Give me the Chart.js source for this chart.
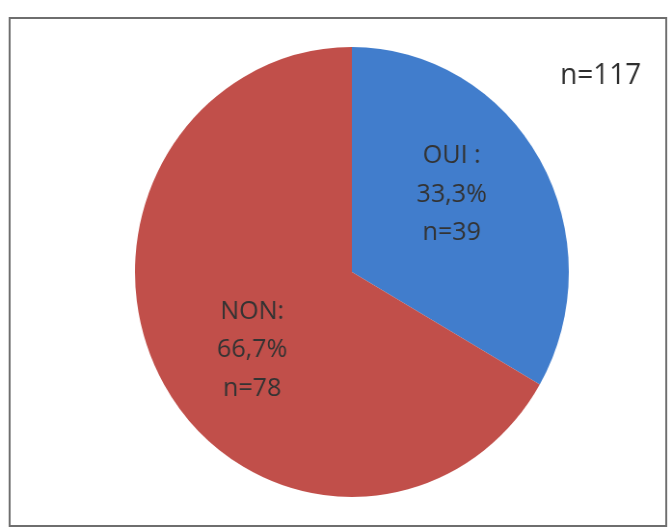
<!DOCTYPE html>
<html>
<head>
<meta charset="utf-8">
<script src="https://cdn.jsdelivr.net/npm/chart.js@4.4.1/dist/chart.umd.min.js"></script>
<style>
  html, body { margin: 0; padding: 0; background: #fff; }
  #wrap { width: 671px; height: 529px; position: relative; overflow: hidden; }
  /* the scan is a bit narrower than tall, so the canvas is squeezed horizontally */
  #pieChart { width: 671px !important; height: 529px !important; display: block; }
</style>
</head>
<body>
<div id="wrap"><canvas id="pieChart" width="696" height="529"></canvas></div>
<script>
var categories = ['OUI', 'NON'];
var counts = [39, 78];
var percents = ['33,3%', '66,7%'];
var labelHeads = ['OUI :', 'NON:'];
var total = 117;
var sliceColors = ['#417dcc', '#c14f4a'];

// frame around the figure + the "n=" note
var framePlugin = {
  id: 'frame',
  beforeDraw: function (chart) {
    var ctx = chart.ctx;
    ctx.save();
    ctx.strokeStyle = '#6e6e6e';
    ctx.lineWidth = 2;
    ctx.strokeRect(10, 18, 681, 508);
    ctx.restore();
  },
  afterDraw: function (chart) {
    var ctx = chart.ctx;
    ctx.save();
    ctx.fillStyle = '#2e2e2e';
    ctx.font = '29px "Open Sans", sans-serif';
    ctx.textAlign = 'center';
    ctx.textBaseline = 'middle';
    ctx.fillText('n=' + total, 623, 76);
    ctx.restore();
  }
};

// text inside each slice
var sliceLabels = {
  id: 'sliceLabels',
  afterDatasetsDraw: function (chart) {
    var ctx = chart.ctx;
    var meta = chart.getDatasetMeta(0);
    ctx.save();
    ctx.fillStyle = '#333333';
    ctx.font = '26px "Open Sans", sans-serif';
    ctx.textAlign = 'center';
    ctx.textBaseline = 'middle';
    meta.data.forEach(function (arc, i) {
      var mid = (arc.startAngle + arc.endAngle) / 2 - 0.12;
      var r = arc.outerRadius * 0.575;
      var x = arc.x + Math.cos(mid) * r;
      var y = arc.y + Math.sin(mid) * r;
      var lines = [labelHeads[i], percents[i], 'n=' + counts[i]];
      lines.forEach(function (t, j) {
        ctx.fillText(t, x, y + (j - 1) * 38.5);
      });
    });
    ctx.restore();
  }
};

var ctx = document.getElementById('pieChart').getContext('2d');
new Chart(ctx, {
  type: 'pie',
  data: {
    labels: categories,
    datasets: [{
      data: counts,
      backgroundColor: sliceColors,
      borderWidth: 0
    }]
  },
  options: {
    responsive: false,
    animation: false,
    layout: { padding: { top: 47, bottom: 32, left: 140, right: 106 } },
    plugins: {
      legend: { display: false },
      tooltip: { enabled: false }
    }
  },
  plugins: [framePlugin, sliceLabels]
});
</script>
</body>
</html>
